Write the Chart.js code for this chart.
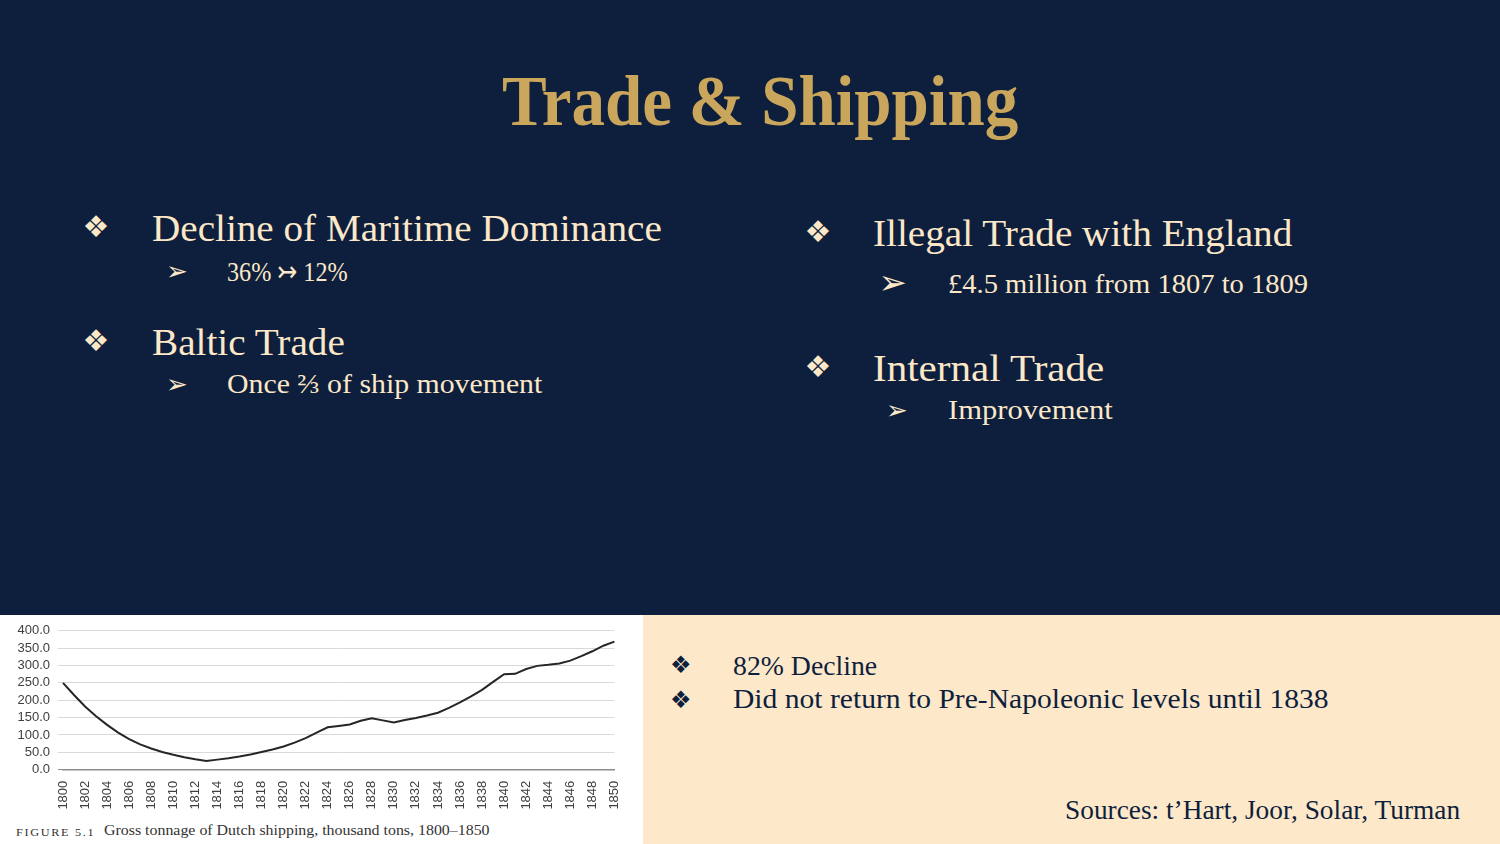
<!DOCTYPE html>
<html>
<head>
<meta charset="utf-8">
<title>Trade & Shipping</title>
<script src="https://cdn.jsdelivr.net/npm/chart.js@4.4.1/dist/chart.umd.min.js"></script>
<style>
    html, body { margin: 0; padding: 0; }
    body { width: 1500px; height: 844px; background: #0e1f3d; position: relative; overflow: hidden; }
    #figure { position: absolute; left: 0; top: 615px; width: 643px; height: 229px; background: #fff; }
    #panel { position: absolute; left: 643px; top: 615px; width: 857px; height: 229px; background: #fde8c9; }
    #chartBox { position: absolute; left: 0; top: 615px; width: 643px; height: 200px; }
    .t { position: absolute; white-space: nowrap; transform-origin: 0 0; }
</style>
</head>
<body>
<div id="figure"></div>
<div id="panel"></div>
<div id="chartBox"><canvas id="tonnageChart" width="643" height="200"></canvas></div>

<script>
// Gross tonnage of Dutch shipping, thousand tons
const years = [
    '1800', '1801', '1802', '1803', '1804', '1805', '1806', '1807', '1808', '1809',
    '1810', '1811', '1812', '1813', '1814', '1815', '1816', '1817', '1818', '1819',
    '1820', '1821', '1822', '1823', '1824', '1825', '1826', '1827', '1828', '1829',
    '1830', '1831', '1832', '1833', '1834', '1835', '1836', '1837', '1838', '1839',
    '1840', '1841', '1842', '1843', '1844', '1845', '1846', '1847', '1848', '1849',
    '1850'
];
const tonnage = [
    250, 215, 182, 154, 129, 107, 88, 73, 61, 51,
    43, 36, 30, 25, 29, 33, 38, 44, 51, 58,
    67, 78, 91, 107, 122, 126, 130, 141, 148, 142,
    136, 143, 149, 156, 164, 178, 194, 211, 230, 253,
    275, 276, 290, 299, 302, 306, 314, 327, 341, 357,
    369
];
const yTickValues = [0, 50, 100, 150, 200, 250, 300, 350, 400];

const cream = '#fce8c8';
const navy = '#0e1f3d';
const serif = "'Liberation Serif', serif";
const symbols = "'DejaVu Sans', sans-serif";

// slide texts: left edge / baseline / size, stretched to the measured width
const texts = [
    { text: 'Trade & Shipping', x: 502, base: 126, size: 71, weight: 700, w: 516, color: '#c9a65b' },
    { text: 'Decline of Maritime Dominance', x: 152, base: 241, size: 38, w: 510, color: cream },
    { text: '36% \u21a3 12%', x: 227, base: 282, size: 28, w: 121, color: cream },
    { text: 'Baltic Trade', x: 152, base: 355, size: 38, w: 193, color: cream },
    { text: 'Once \u2154 of ship movement', x: 227, base: 394, size: 28, w: 315, color: cream },
    { text: 'Illegal Trade with England', x: 873, base: 246, size: 38, w: 419, color: cream },
    { text: '\u00a34.5 million from 1807 to 1809', x: 948, base: 294, size: 28, w: 360, color: cream },
    { text: 'Internal Trade', x: 873, base: 381, size: 38, w: 231, color: cream },
    { text: 'Improvement', x: 948, base: 420, size: 28, w: 165, color: cream },
    { text: '82% Decline', x: 733, base: 676, size: 27, w: 144, color: navy },
    { text: 'Did not return to Pre-Napoleonic levels until 1838', x: 733, base: 709, size: 27, w: 596, color: navy },
    { text: 'Sources: t\u2019Hart, Joor, Solar, Turman', x: 1065, base: 820, size: 27, w: 395, color: navy },
    { text: 'FIGURE 5.1', x: 16, base: 836, size: 11, w: 79, color: '#333', spacing: 1.5 },
    { text: 'Gross tonnage of Dutch shipping, thousand tons, 1800\u20131850', x: 104, base: 836, size: 14, w: 385, color: '#333' },
    // bullets and arrows, placed by centre
    { text: '\u2756', cx: 96, base: 237, size: 30, color: cream, family: symbols },
    { text: '\u2756', cx: 96, base: 351, size: 30, color: cream, family: symbols },
    { text: '\u2756', cx: 818, base: 242, size: 30, color: cream, family: symbols },
    { text: '\u2756', cx: 818, base: 377, size: 30, color: cream, family: symbols },
    { text: '\u2756', cx: 681, base: 673, size: 24, color: navy, family: symbols },
    { text: '\u2756', cx: 681, base: 708, size: 24, color: navy, family: symbols },
    { text: '\u27a2', cx: 177, base: 280, size: 26, color: cream, family: symbols },
    { text: '\u27a2', cx: 177, base: 393, size: 26, color: cream, family: symbols },
    { text: '\u27a2', cx: 893, base: 294, size: 34, color: cream, family: symbols },
    { text: '\u27a2', cx: 897, base: 419, size: 26, color: cream, family: symbols }
];

function addText(o) {
    const el = document.createElement('div');
    el.className = 't';
    el.textContent = o.text;
    el.style.font = (o.weight || 400) + ' ' + o.size + 'px ' + (o.family || serif);
    el.style.lineHeight = o.size + 'px';
    el.style.color = o.color;
    if (o.spacing) el.style.letterSpacing = o.spacing + 'px';
    el.style.top = (o.base - 0.84 * o.size) + 'px';
    document.body.appendChild(el);
    const width = el.offsetWidth;
    if (o.cx !== undefined) {
        el.style.left = (o.cx - width / 2) + 'px';
    } else {
        el.style.left = o.x + 'px';
    }
    if (o.w) el.style.transform = 'scaleX(' + (o.w / width) + ')';
}

texts.forEach(addText);

// the figure
const tickFont = { family: "'Liberation Sans', sans-serif", size: 13 };

new Chart(document.getElementById('tonnageChart'), {
    type: 'line',
    data: {
        labels: years,
        datasets: [{
            data: tonnage,
            borderColor: '#262626',
            borderWidth: 2,
            pointRadius: 0,
            tension: 0,
            fill: false
        }]
    },
    options: {
        responsive: false,
        animation: false,
        layout: { padding: { top: 13.3, right: 28.6, bottom: 0, left: 0 } },
        plugins: {
            legend: { display: false },
            tooltip: { enabled: false }
        },
        scales: {
            x: {
                grid: { display: false, drawTicks: false },
                border: { display: true, color: '#8c8c8c', width: 1.5 },
                ticks: {
                    autoSkip: false,
                    minRotation: 90,
                    maxRotation: 90,
                    padding: 11,
                    color: '#404040',
                    font: tickFont,
                    callback: function(value, index) {
                        return index % 2 === 0 ? years[index] : '';
                    }
                },
                afterFit: function(scale) { scale.height = 45.3; }
            },
            y: {
                min: 0,
                max: 400,
                afterBuildTicks: function(scale) {
                    scale.ticks = yTickValues.map(v => ({ value: v }));
                },
                grid: {
                    color: ctx => (ctx.tick && ctx.tick.value === 0) ? '#8c8c8c' : '#d9d9d9',
                    tickLength: 5
                },
                border: { display: false },
                ticks: {
                    autoSkip: false,
                    padding: 8,
                    color: '#404040',
                    font: tickFont,
                    callback: value => Number(value).toFixed(1)
                },
                afterFit: function(scale) { scale.width = 63; }
            }
        }
    }
});
</script>
</body>
</html>
